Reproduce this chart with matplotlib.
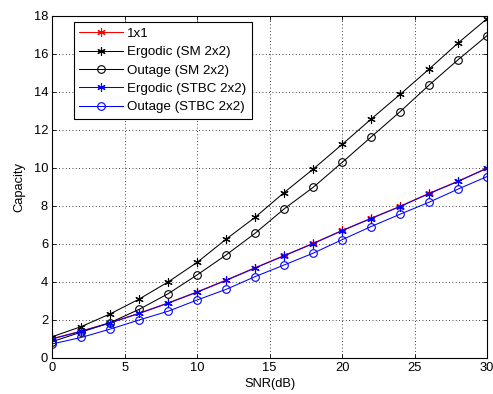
import matplotlib
matplotlib.use("Agg")
import matplotlib.pyplot as plt
import numpy as np

snr_db = [0, 2, 4, 6, 8, 10, 12, 14, 16, 18, 20, 22, 24, 26, 28, 30]
cap_1x1 = [1.02, 1.42, 1.86, 2.36, 2.9, 3.48, 4.1, 4.75, 5.39, 6.03, 6.71, 7.35, 7.98, 8.66, 9.3, 9.99]
ergodic_sm = [1.12, 1.65, 2.32, 3.1, 4.0, 5.03, 6.25, 7.4, 8.7, 9.93, 11.23, 12.56, 13.86, 15.19, 16.56, 17.84]
outage_sm = [0.86, 1.36, 1.86, 2.56, 3.38, 4.37, 5.42, 6.56, 7.84, 8.97, 10.28, 11.62, 12.95, 14.35, 15.68, 16.95]
ergodic_stbc = [1.0, 1.4, 1.84, 2.34, 2.88, 3.46, 4.08, 4.73, 5.37, 6.01, 6.69, 7.33, 7.96, 8.64, 9.28, 9.97]
outage_stbc = [0.74, 1.08, 1.52, 2.0, 2.46, 3.05, 3.61, 4.28, 4.89, 5.51, 6.22, 6.91, 7.56, 8.19, 8.88, 9.54]

x_ticks = [0, 5, 10, 15, 20, 25, 30]
y_ticks = [0, 2, 4, 6, 8, 10, 12, 14, 16, 18]

plt.rcParams['font.family'] = ['Liberation Sans', 'DejaVu Sans']
plt.rcParams['font.size'] = 9.3

fig = plt.figure(figsize=(4.93, 3.94), dpi=100)
ax = fig.add_axes([0.106, 0.0914, 0.882, 0.869])

asterisk = (6, 2, 0)
lw = 0.75
ms_star = 6
ms_circ = 5.5

ax.plot(snr_db, cap_1x1, color='red', marker=asterisk, ms=ms_star, lw=lw, mew=0.8, label='1x1')
ax.plot(snr_db, ergodic_sm, color='black', marker=asterisk, ms=ms_star, lw=lw, mew=0.8, label='Ergodic (SM 2x2)')
ax.plot(snr_db, outage_sm, color='black', marker='o', ms=ms_circ, mfc='none', lw=lw, mew=0.8, label='Outage (SM 2x2)')
ax.plot(snr_db, ergodic_stbc, color='blue', marker=asterisk, ms=ms_star, lw=lw, mew=0.8, label='Ergodic (STBC 2x2)')
ax.plot(snr_db, outage_stbc, color='blue', marker='o', ms=ms_circ, mfc='none', lw=lw, mew=0.8, label='Outage (STBC 2x2)')

ax.set_xlim(0, 30)
ax.set_ylim(0, 18)
ax.set_xticks(x_ticks)
ax.set_yticks(y_ticks)
ax.grid(True, linestyle=(0, (1, 3)), color='black', linewidth=0.6)
ax.tick_params(direction='in', top=True, right=True, length=3, width=0.6, pad=3)
for s in ax.spines.values():
    s.set_linewidth(0.8)

ax.set_xlabel('SNR(dB)', labelpad=3)
ax.set_ylabel('Capacity', labelpad=6)

leg = ax.legend(loc='upper left', bbox_to_anchor=(0.05, 0.98), borderaxespad=0,
                fancybox=False, edgecolor='black', framealpha=1, fontsize=9.6,
                handlelength=3.3, labelspacing=0.45, handletextpad=0.3, borderpad=0.4)
leg.get_frame().set_linewidth(0.8)

fig.savefig('out.png', dpi=100)
